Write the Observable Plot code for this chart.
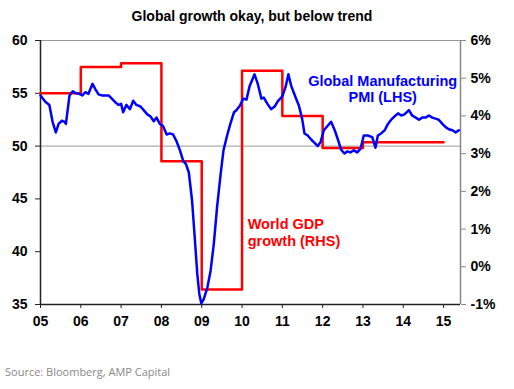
<!DOCTYPE html>
<html><head><meta charset="utf-8">
<script src="https://cdn.jsdelivr.net/npm/d3@7"></script>
<script src="https://cdn.jsdelivr.net/npm/@observablehq/plot@0.6"></script>
<style>
body{margin:0;background:#fff;width:514px;}
#title{font:bold 14px "Liberation Sans",Arial,sans-serif;height:28px;line-height:28px;padding-top:2px;text-align:center;padding-right:10px;color:#000;}
#chart{height:320px;}
#caption{font:11px "Open Sans",sans-serif;color:#888;padding:14px 0 0 5px;}
</style></head><body>
<div id="title">Global growth okay, but below trend</div>
<div id="chart"></div>
<div id="caption">Source: Bloomberg, AMP Capital</div>
<script>
// Global Manufacturing PMI (LHS), decimal year
const pmiDates = [2005.00,2005.12,2005.22,2005.30,2005.38,2005.45,2005.53,2005.60,2005.63,2005.72,2005.80,2005.88,2005.96,
2006.04,2006.11,2006.19,2006.29,2006.36,2006.44,2006.52,2006.69,2006.77,2006.87,2006.94,
2007.00,2007.05,2007.13,2007.22,2007.30,2007.38,2007.48,2007.56,2007.65,2007.73,2007.81,2007.88,2007.96,
2008.04,2008.13,2008.21,2008.29,2008.37,2008.46,2008.54,2008.61,2008.68,2008.76,2008.82,2008.89,2008.94,2008.99,
2009.05,2009.14,2009.22,2009.30,2009.38,2009.47,2009.54,2009.63,2009.71,2009.80,2009.86,2009.95,
2010.03,2010.11,2010.19,2010.31,2010.39,2010.48,2010.54,2010.63,2010.72,2010.81,2010.89,
2011.00,2011.08,2011.15,2011.22,2011.33,2011.41,2011.49,2011.55,2011.63,2011.72,2011.80,2011.88,2011.95,
2012.03,2012.13,2012.21,2012.30,2012.38,2012.46,2012.54,2012.61,2012.69,2012.77,2012.86,2012.94,
2013.02,2013.12,2013.23,2013.31,2013.37,2013.45,2013.54,2013.62,2013.70,2013.78,2013.87,2013.95,
2014.03,2014.14,2014.22,2014.31,2014.39,2014.47,2014.55,2014.64,2014.72,2014.80,2014.88,2014.97,
2015.05,2015.13,2015.22,2015.30,2015.38];
const pmiValues = [54.8,54.2,53.9,52.3,51.3,52.1,52.4,52.3,52.1,54.8,55.2,55.0,54.95,
54.8,55.1,54.95,55.9,55.4,54.9,54.8,54.8,54.5,54.1,53.9,
54.0,53.2,53.9,53.5,54.3,53.9,53.75,53.4,53.0,52.8,52.35,52.7,52.1,
51.9,51.1,51.2,51.1,50.5,49.6,48.6,48.3,47.5,44.85,41.7,37.9,36.0,35.1,
35.5,36.6,38.2,40.75,44.2,47.4,49.6,51.0,52.1,53.2,53.4,53.85,
54.5,54.4,55.7,56.8,55.9,54.5,54.6,54.0,53.5,53.75,54.25,
54.7,55.6,56.8,55.7,54.6,53.85,52.6,51.2,51.0,50.6,50.3,50.0,50.4,
51.5,51.95,52.3,51.5,50.6,49.65,49.3,49.5,49.4,49.6,49.4,49.75,
51.0,51.0,50.85,49.85,51.0,51.2,51.5,52.1,52.5,52.8,53.1,52.9,
53.0,53.4,52.9,52.7,52.5,52.7,52.7,52.9,52.7,52.6,52.5,52.1,
51.8,51.6,51.5,51.3,51.5];

// World GDP growth (RHS), % per year
const gdpYears = [2005,2006,2007,2008,2009,2010,2011,2012,2013,2014,2015];
const gdpValues = [4.6,5.3,5.4,2.8,-0.6,5.2,4.0,3.15,3.3,3.3,3.3];

const yearTicks = [2005,2006,2007,2008,2009,2010,2011,2012,2013,2014,2015];
const lhsTicks = [35,40,45,50,55,60];
const rhsTicks = [-1,0,1,2,3,4,5,6];
const gridValues = [50,60];

const labelTexts = ["Global Manufacturing\nPMI (LHS)", "World GDP\ngrowth (RHS)"];
const labelX = [2013.49, 2010.14];
const labelY = [55.45, 41.88];

const xDomain = [2005, 2015.42];
const lhsDomain = [35, 60];
const rhsDomain = [-1, 6];

// map RHS % onto LHS scale
const toL = g => lhsDomain[0] + (g - rhsDomain[0]) * (lhsDomain[1]-lhsDomain[0])/(rhsDomain[1]-rhsDomain[0]);
const fromL = v => rhsDomain[0] + (v - lhsDomain[0]) * (rhsDomain[1]-rhsDomain[0])/(lhsDomain[1]-lhsDomain[0]);

const pmi = pmiDates.map((d,i)=>({x:d, v:pmiValues[i]}));
const gdp = gdpYears.map((d,i)=>({x:d, v:toL(gdpValues[i])}));
const labels = labelTexts.map((t,i)=>({t, x:labelX[i], y:labelY[i]}));

const chart = Plot.plot({
  width: 514, height: 320,
  marginTop: 10, marginBottom: 46, marginLeft: 40, marginRight: 54,
  style: {fontFamily: '"Liberation Sans", Arial, sans-serif', fontSize: "14px", fontWeight: "bold", color: "#000", background: "#fff"},
  x: {domain: xDomain, label: null},
  y: {domain: lhsDomain, label: null},
  marks: [
    Plot.ruleY(gridValues, {stroke: "#999", strokeWidth: 1}),
    Plot.ruleX([xDomain[1]], {stroke: "#888", strokeWidth: 1.5}),
    Plot.axisY(lhsTicks, {anchor: "left", tickSize: 5, tickPadding: 8, label: null, stroke: "#222"}),
    Plot.axisY(rhsTicks.map(toL), {anchor: "right", tickSize: 5, tickPadding: 5, label: null, stroke: "#888", fill: "#000",
      tickFormat: d => Math.round(fromL(d)) + "%"}),
    Plot.axisX(yearTicks, {anchor: "bottom", tickSize: 4, tickPadding: 8, label: null, stroke: "#222",
      tickFormat: d => String(d).slice(2)}),
    Plot.ruleX([xDomain[0]], {stroke: "#222", strokeWidth: 1.5}),
    Plot.ruleY([lhsDomain[0]], {stroke: "#222", strokeWidth: 1.5}),
    Plot.line(gdp, {x: "x", y: "v", curve: "step-after", stroke: "#ff0000", strokeWidth: 2.5}),
    Plot.line(pmi, {x: "x", y: "v", stroke: "#0000ff", strokeWidth: 2.5}),
    Plot.text(labels.slice(0,1), {x: "x", y: "y", text: "t", fill: "#0000ff", fontSize: 14.5, fontWeight: "bold", textAnchor: "middle", lineHeight: 1.1}),
    Plot.text(labels.slice(1), {x: "x", y: "y", text: "t", fill: "#ff0000", fontSize: 14.5, fontWeight: "bold", textAnchor: "start", lineHeight: 1.2})
  ]
});
document.getElementById("chart").appendChild(chart);
</script>
</body></html>
